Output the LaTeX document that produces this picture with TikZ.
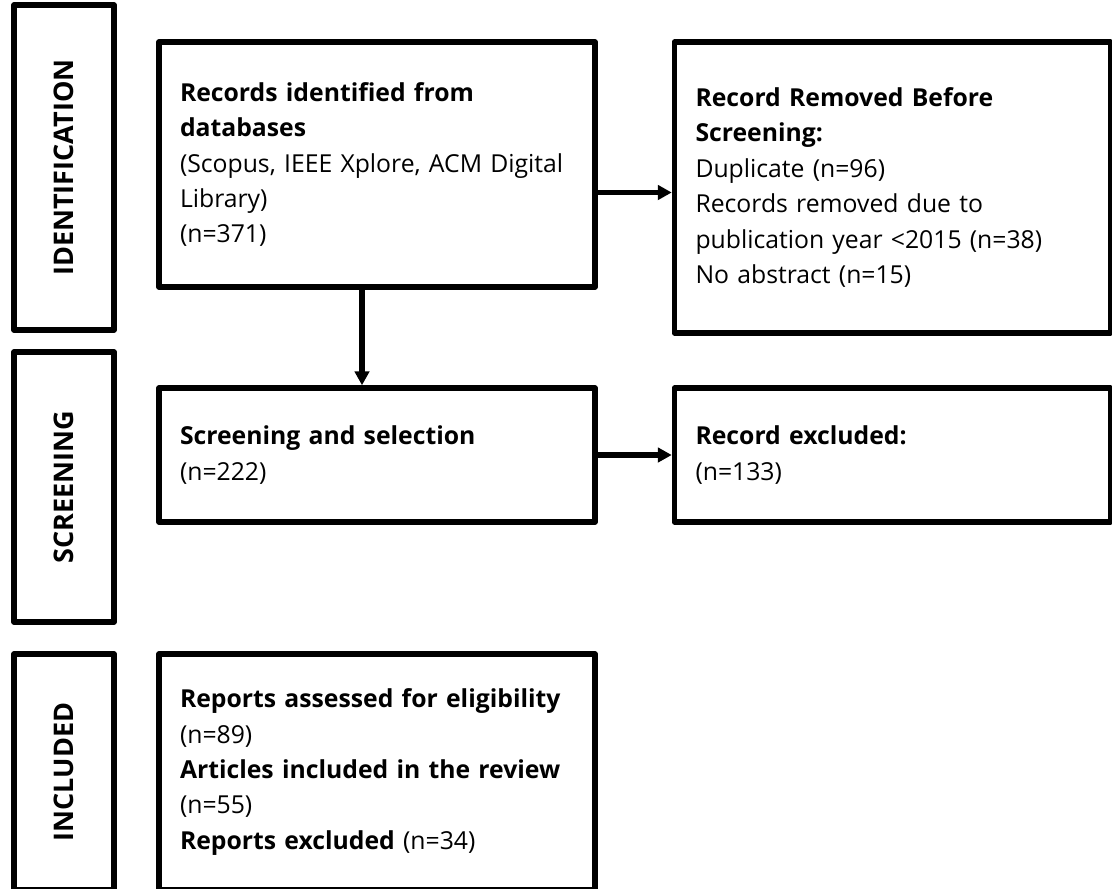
\documentclass[tikz,border=0pt]{standalone}
\usepackage{fontspec}
\setmainfont{Open Sans}
\usetikzlibrary{arrows.meta,positioning}

\newlength{\pxu}
\setlength{\pxu}{0.25mm}

\begin{document}
\begin{tikzpicture}[
  x=0.25mm,y=-0.25mm,
  stage/.style={draw,line width=5.5\pxu,line join=round,rotate=90,minimum height=100\pxu,
                font=\bfseries\fontsize{19.2}{22}\selectfont},
  box/.style={draw,line width=5.5\pxu,line join=round,align=left,text width=394\pxu,
              inner xsep=21\pxu,minimum width=436\pxu,font=\fontsize{17.6}{25.2}\selectfont},
  arr/.style={-{Triangle[length=3.5mm,width=3.6mm]},line width=1.3mm}
]
  \useasboundingbox (0,0) rectangle (1112,888);

  % stages on the left
  \node[stage,minimum width=325\pxu] (ident) at (64,167.5) {IDENTIFICATION};
  \node[stage,minimum width=270\pxu] (screen) at (64,487) {SCREENING};
  \node[stage,minimum width=236\pxu] (incl) at (64,772) {INCLUDED};

  % flow boxes
  \node[box,minimum height=245\pxu] (records) at (377,164.5)
    {\textbf{Records identified from}\\\textbf{databases}\\(Scopus, IEEE Xplore, ACM Digital\\Library)\\(n=371)};
  \node[box,minimum height=291\pxu] (removed) at (892.5,187.5)
    {\textbf{Record Removed Before}\\\textbf{Screening:}\\Duplicate (n=96)\\Records removed due to\\publication year <2015 (n=38)\\No abstract (n=15)};
  \node[box,minimum height=134\pxu] (screening) at (377,455)
    {\textbf{Screening and selection}\\(n=222)};
  \node[box,minimum height=134\pxu] (excluded) at (892.5,455)
    {\textbf{Record excluded:}\\(n=133)};
  \node[box,minimum height=236\pxu] (included) at (377,772)
    {\textbf{Reports assessed for eligibility}\\(n=89)\\\textbf{Articles included in the review}\\(n=55)\\\textbf{Reports excluded} (n=34)};

  \coordinate (rmin) at ([yshift=-5\pxu]removed.west);
  \coordinate (rout) at ([xshift=-15\pxu]records.south);
  \draw[arr] (records.east |- rmin) -- (rmin);
  \draw[arr] (rout) -- (rout |- screening.north);
  \draw[arr] (screening) -- (excluded);
\end{tikzpicture}
\end{document}
